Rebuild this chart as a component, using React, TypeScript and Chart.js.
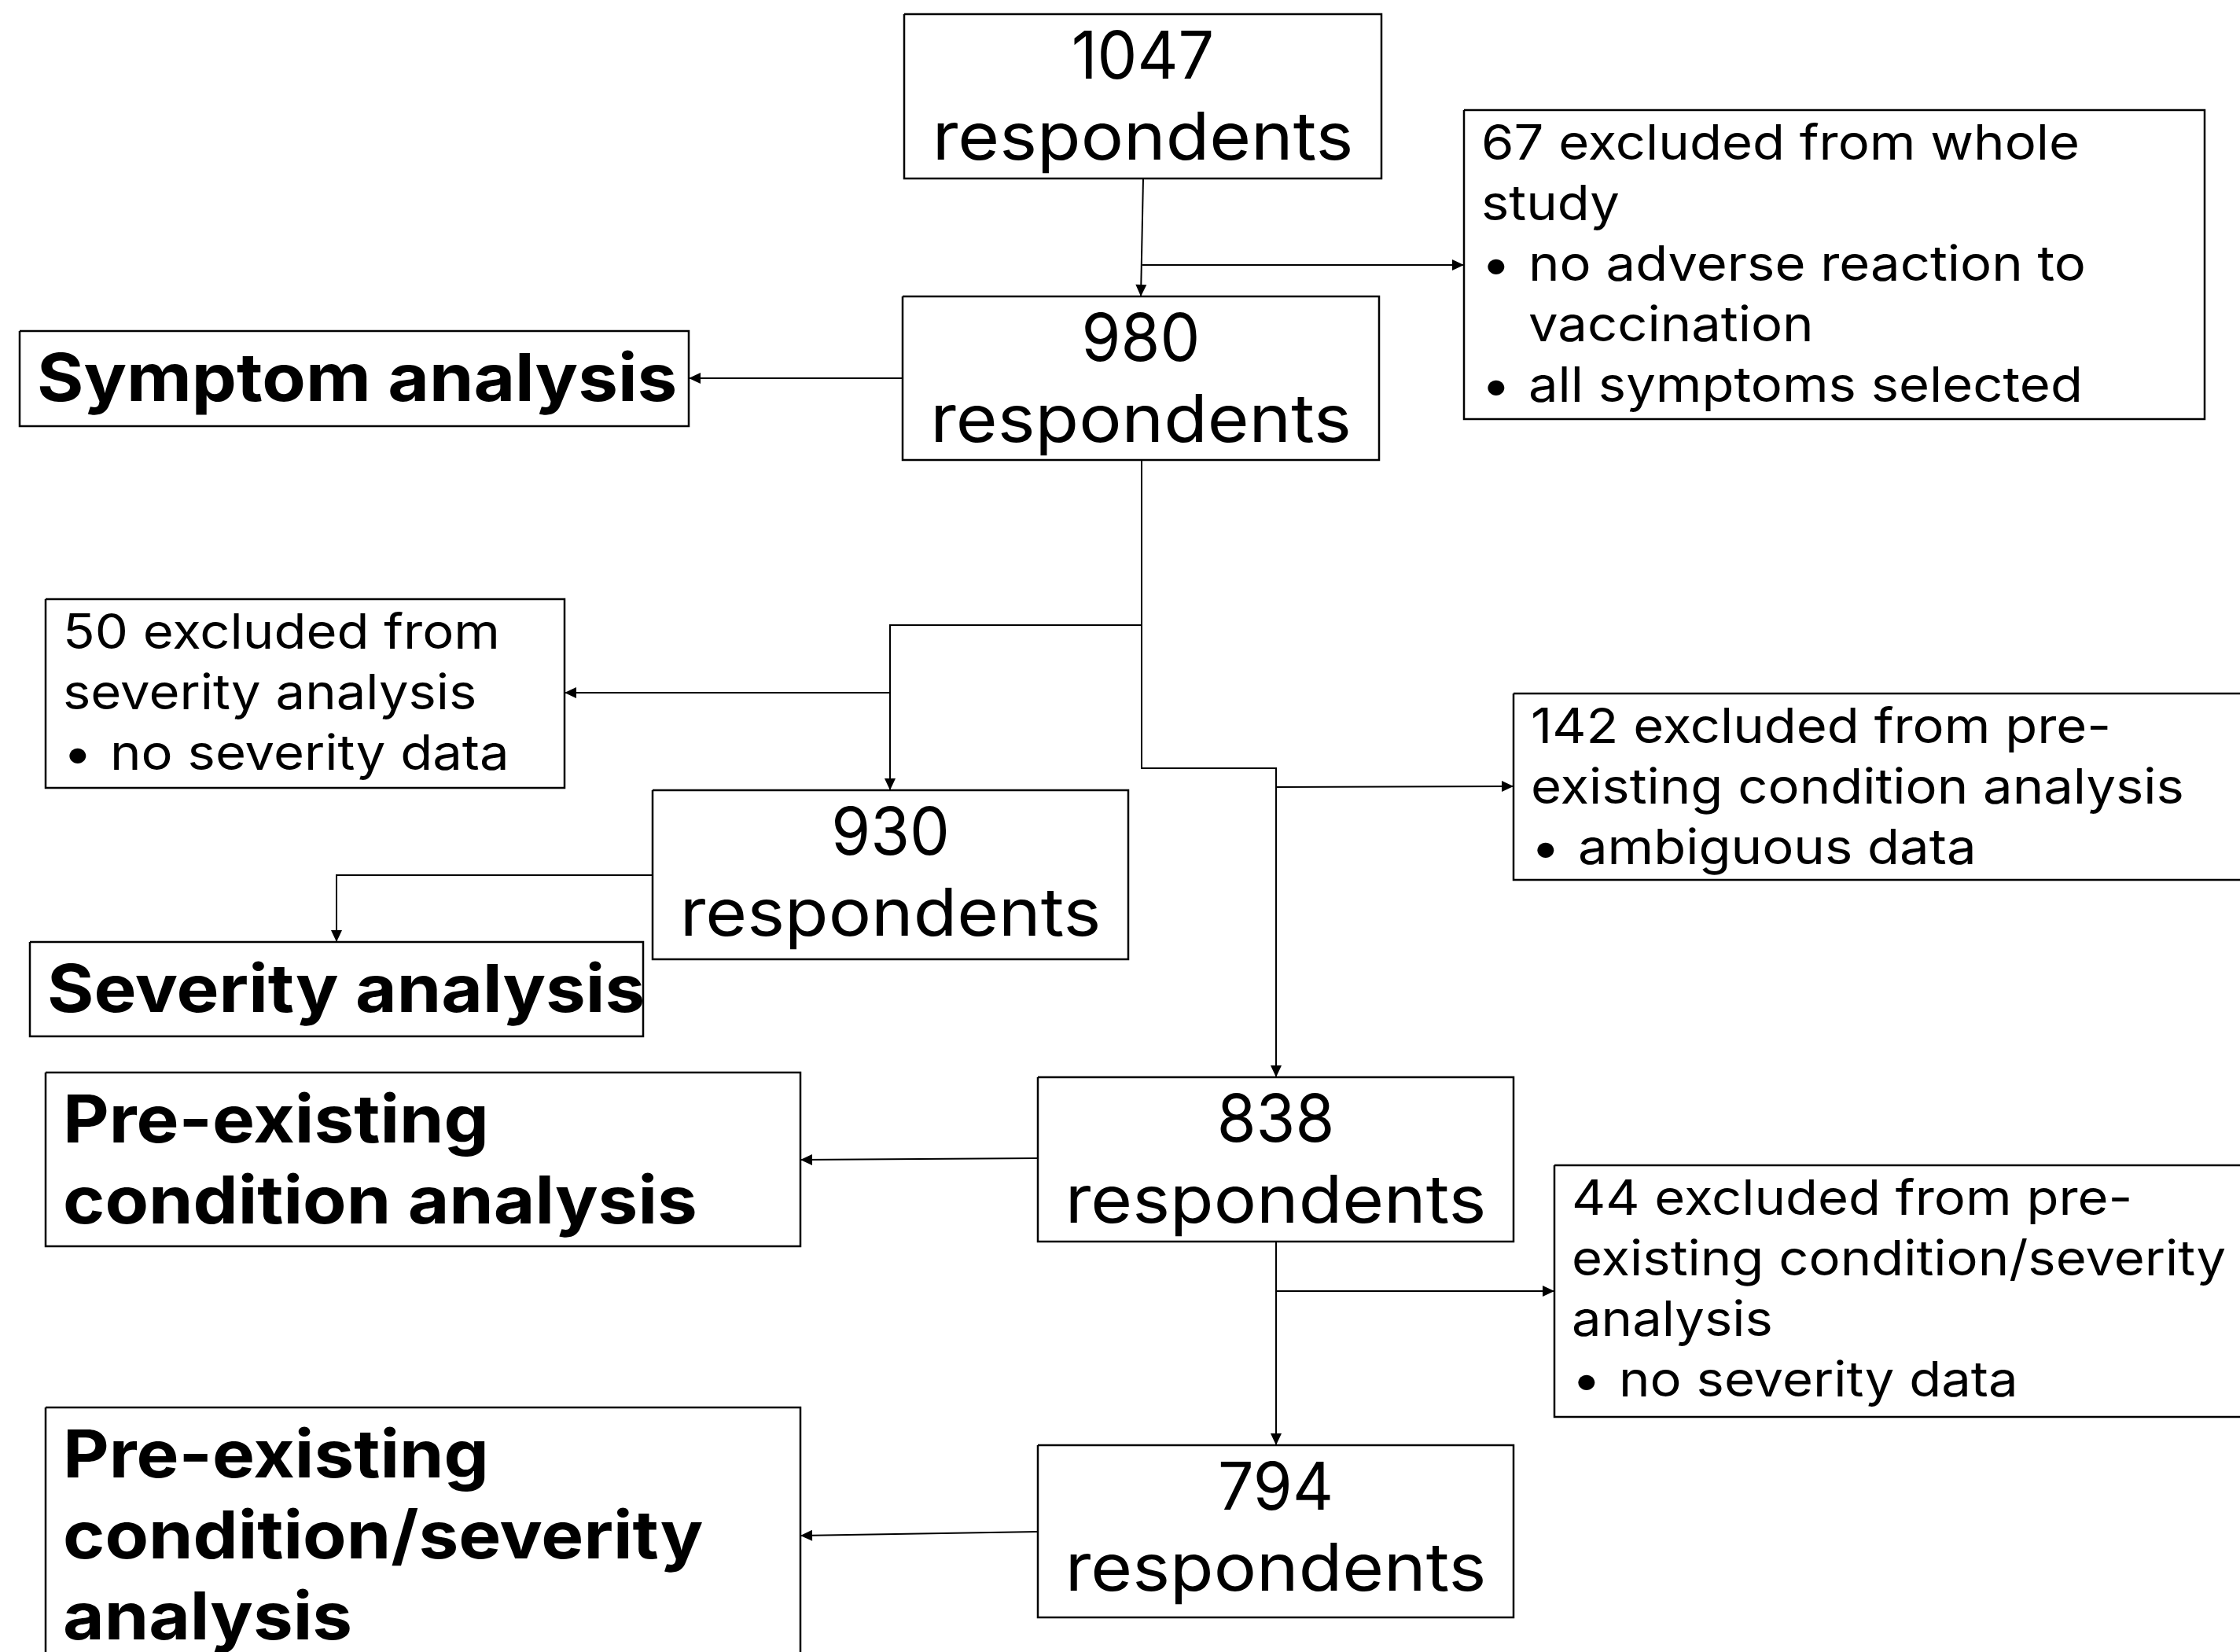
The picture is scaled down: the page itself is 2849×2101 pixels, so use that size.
import React, { useEffect, useRef } from "react";
import { Chart, registerables } from "chart.js";

Chart.register(...registerables);

// ---------- data (diagram units: x 0..2849, y 0..2101 from the top) ----------
const countLabels = ["1047", "980", "930", "838", "794"];
const countUnit = "respondents";
const countLeft = [1150, 1148, 830, 1320, 1320];
const countRight = [1757, 1754, 1435, 1925, 1925];
const countTop = [18, 377, 1005, 1370, 1838];
const countBottom = [227, 585, 1220, 1579, 2057];

const exclusionLines = [
  ["67 excluded from whole", "study", "• no adverse reaction to", "  vaccination", "• all symptoms selected"],
  ["50 excluded from", "severity analysis", "• no severity data"],
  ["142 excluded from pre-", "existing condition analysis", "• ambiguous data"],
  ["44 excluded from pre-", "existing condition/severity", "analysis", "• no severity data"],
];
const exclusionLeft = [1862, 58, 1925, 1977];
const exclusionRight = [2804, 718, 2880, 2880];
const exclusionTop = [140, 762, 882, 1482];
const exclusionBottom = [533, 1002, 1119, 1802];

const analysisLines = [
  ["Symptom analysis"],
  ["Severity analysis"],
  ["Pre-existing", "condition analysis"],
  ["Pre-existing", "condition/severity", "analysis"],
];
const analysisLeft = [25, 38, 58, 58];
const analysisRight = [876, 818, 1018, 1018];
const analysisTop = [421, 1198, 1364, 1790];
const analysisBottom = [542, 1318, 1585, 2130];

// connectors: polylines, arrowhead at the last point
const flowX = [
  [1454, 1451],
  [1453, 1862],
  [1148, 876],
  [1452, 1452, 1623, 1623],
  [1452, 1132, 1132],
  [1132, 718],
  [830, 428, 428],
  [1623, 1925],
  [1320, 1018],
  [1623, 1623],
  [1623, 1977],
  [1320, 1018],
];
const flowY = [
  [227, 377],
  [337, 337],
  [481, 481],
  [585, 977, 977, 1370],
  [795, 795, 1005],
  [881, 881],
  [1113, 1113, 1198],
  [1001, 1000],
  [1473, 1475],
  [1579, 1838],
  [1642, 1642],
  [1948, 1953],
];

// ---------- styles ----------
const W = 2849;
const H = 2101;
const FONT = "Inter, 'Noto Sans', sans-serif";
const STRETCH = 1.08;
const NUM_STRETCH = 0.96;
const INK = "#000000";
const BOX_LINE = 2.5;
const FLOW_LINE = 2;
const ARROW_LEN = 15;
const ARROW_HALF = 7;

const COUNT_FONT = 84;
const COUNT_FIRST = 82;
const COUNT_STEP = 103;

const EXCL_FONT = 62;
const EXCL_FIRST = 63;
const EXCL_STEP = 77;
const EXCL_PAD = 22;
const EXCL_INDENT = 60;

const ANA_FONT = 84;
const ANA_FIRST = 89;
const ANA_STEP = 103;
const ANA_PAD = 22;

function boxPoints(l: number, r: number, t: number, b: number) {
  return [
    { x: l, y: t },
    { x: r, y: t },
    { x: r, y: b },
    { x: l, y: b },
    { x: l, y: t },
  ];
}

export default function App() {
  const ref = useRef<HTMLCanvasElement>(null);

  useEffect(() => {
    document.body.style.margin = "0";
    const canvas = ref.current;
    if (!canvas) return;

    const datasets: any[] = [];
    const addBoxes = (L: number[], R: number[], T: number[], B: number[]) => {
      for (let i = 0; i < L.length; i++) {
        datasets.push({
          kind: "box",
          data: boxPoints(L[i], R[i], T[i], B[i]),
          showLine: true,
          borderColor: INK,
          borderWidth: BOX_LINE,
          borderJoinStyle: "miter",
          pointRadius: 0,
          tension: 0,
          fill: false,
        });
      }
    };
    addBoxes(countLeft, countRight, countTop, countBottom);
    addBoxes(exclusionLeft, exclusionRight, exclusionTop, exclusionBottom);
    addBoxes(analysisLeft, analysisRight, analysisTop, analysisBottom);
    for (let i = 0; i < flowX.length; i++) {
      datasets.push({
        kind: "flow",
        data: flowX[i].map((x, j) => ({ x, y: flowY[i][j] })),
        showLine: true,
        borderColor: INK,
        borderWidth: FLOW_LINE,
        borderJoinStyle: "miter",
        pointRadius: 0,
        tension: 0,
        fill: false,
      });
    }

    const background = {
      id: "bg",
      beforeDraw(chart: any) {
        const c = chart.ctx;
        c.save();
        c.fillStyle = "#ffffff";
        c.fillRect(0, 0, chart.width, chart.height);
        c.restore();
      },
    };

    const drawText = (
      c: CanvasRenderingContext2D,
      text: string,
      x: number,
      y: number,
      align: CanvasTextAlign,
      stretch: number = STRETCH
    ) => {
      c.save();
      c.translate(x, y);
      c.scale(stretch, 1);
      c.textAlign = align;
      c.textBaseline = "alphabetic";
      c.fillText(text, 0, 0);
      c.restore();
    };

    const overlay = {
      id: "flowOverlay",
      afterDatasetsDraw(chart: any) {
        const c: CanvasRenderingContext2D = chart.ctx;
        const sx = chart.scales.x;
        const sy = chart.scales.y;
        const px = (v: number) => sx.getPixelForValue(v);
        const py = (v: number) => sy.getPixelForValue(v);
        c.save();
        c.fillStyle = INK;

        // arrowheads
        chart.data.datasets.forEach((ds: any, i: number) => {
          if (ds.kind !== "flow") return;
          const pts = chart.getDatasetMeta(i).data;
          const a = pts[pts.length - 2];
          const b = pts[pts.length - 1];
          const ang = Math.atan2(b.y - a.y, b.x - a.x);
          c.save();
          c.translate(b.x, b.y);
          c.rotate(ang);
          c.beginPath();
          c.moveTo(0, 0);
          c.lineTo(-ARROW_LEN, -ARROW_HALF);
          c.lineTo(-ARROW_LEN, ARROW_HALF);
          c.closePath();
          c.fill();
          c.restore();
        });

        // count boxes
        c.font = `400 ${COUNT_FONT}px ${FONT}`;
        for (let i = 0; i < countLabels.length; i++) {
          const cx = px((countLeft[i] + countRight[i]) / 2);
          drawText(c, countLabels[i], cx, py(countTop[i] + COUNT_FIRST), "center", NUM_STRETCH);
          drawText(c, countUnit, cx, py(countTop[i] + COUNT_FIRST + COUNT_STEP), "center");
        }

        // exclusion boxes
        c.font = `400 ${EXCL_FONT}px ${FONT}`;
        for (let i = 0; i < exclusionLines.length; i++) {
          const lx = exclusionLeft[i] + EXCL_PAD;
          exclusionLines[i].forEach((line, j) => {
            const y = py(exclusionTop[i] + EXCL_FIRST + j * EXCL_STEP);
            if (line.startsWith("• ")) {
              drawText(c, "•", px(lx), y, "left");
              drawText(c, line.slice(2), px(lx + EXCL_INDENT), y, "left");
            } else if (line.startsWith("  ")) {
              drawText(c, line.trim(), px(lx + EXCL_INDENT), y, "left");
            } else {
              drawText(c, line, px(lx), y, "left");
            }
          });
        }

        // analysis boxes
        c.font = `700 ${ANA_FONT}px ${FONT}`;
        for (let i = 0; i < analysisLines.length; i++) {
          analysisLines[i].forEach((line, j) => {
            drawText(c, line, px(analysisLeft[i] + ANA_PAD), py(analysisTop[i] + ANA_FIRST + j * ANA_STEP), "left");
          });
        }
        c.restore();
      },
    };

    const chart = new Chart(canvas, {
      type: "scatter",
      data: { datasets },
      options: {
        animation: false,
        responsive: false,
        maintainAspectRatio: false,
        events: [],
        layout: { padding: 0 },
        plugins: { legend: { display: false }, tooltip: { enabled: false } },
        scales: {
          x: { type: "linear", min: 0, max: W, display: false },
          y: { type: "linear", min: 0, max: H, reverse: true, display: false },
        },
      },
      plugins: [background, overlay],
    } as any);

    return () => chart.destroy();
  }, []);

  return (
    <div style={{ width: W, height: H }}>
      <canvas ref={ref} width={W} height={H} style={{ display: "block", width: W, height: H }} />
    </div>
  );
}
